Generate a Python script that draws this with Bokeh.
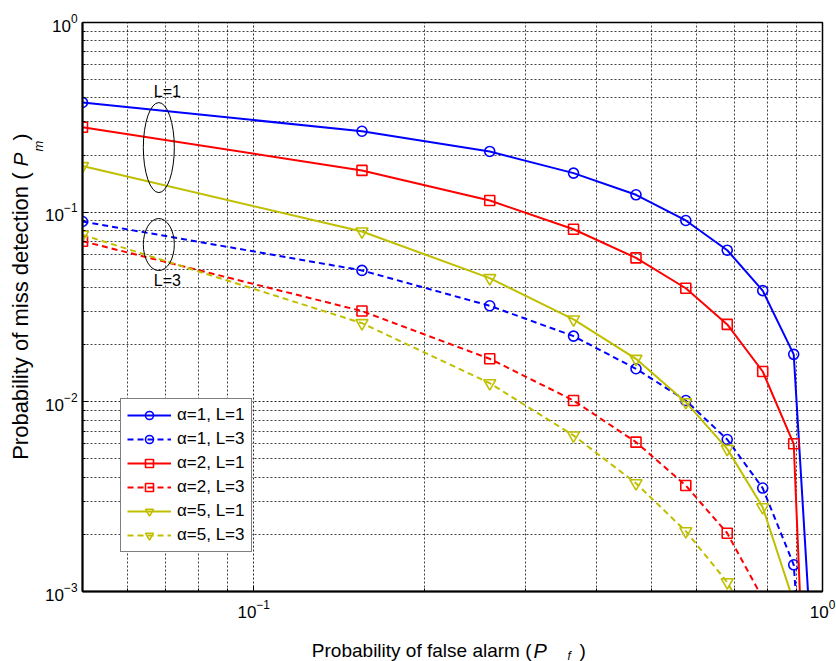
from math import pi, log10
from bokeh.plotting import figure
from bokeh.models import Range1d, FixedTicker, Label
from bokeh.core.properties import value
from bokeh.embed import file_html
from bokeh.resources import INLINE

# ---------------- data ----------------
pf = [0.05, 0.155, 0.26, 0.365, 0.47, 0.575, 0.68, 0.785, 0.89, 0.995]

pm_a1_L1 = [0.379, 0.267, 0.209, 0.1606, 0.1235, 0.0904, 0.0630, 0.0386, 0.0178, 6.9e-5]
pm_a1_L3 = [0.0893, 0.0493, 0.0321, 0.0222, 0.01494, 0.01016, 0.00633, 0.00351, 0.001383, 1.4e-5]
pm_a2_L1 = [0.2805, 0.166, 0.1152, 0.0813, 0.0574, 0.0397, 0.0256, 0.01445, 0.00601, 1.9e-6]
pm_a2_L3 = [0.0703, 0.0301, 0.01686, 0.01016, 0.00613, 0.00362, 0.00203, 0.00092, 2.5e-4, 1e-5]
pm_a5_L1 = [0.175, 0.0791, 0.0449, 0.0272, 0.01686, 0.00996, 0.00565, 0.00278, 0.00088, 1e-6]
pm_a5_L3 = [0.076, 0.026, 0.01254, 0.00665, 0.00372, 0.00208, 0.00112, 0.00052, 1.5e-4, 1e-5]

series_labels = ["\u03b1=1, L=1", "\u03b1=1, L=3", "\u03b1=2, L=1",
                 "\u03b1=2, L=3", "\u03b1=5, L=1", "\u03b1=5, L=3"]

x_major_ticks = [0.1, 1.0]
x_minor_ticks = [0.06, 0.07, 0.08, 0.09, 0.2, 0.3, 0.4, 0.5, 0.6, 0.7, 0.8, 0.9]
y_major_ticks = [0.001, 0.01, 0.1, 1.0]
y_minor_ticks = [0.002, 0.003, 0.004, 0.005, 0.006, 0.007, 0.008, 0.009,
                 0.02, 0.03, 0.04, 0.05, 0.06, 0.07, 0.08, 0.09,
                 0.2, 0.3, 0.4, 0.5, 0.6, 0.7, 0.8, 0.9]

X_MIN, X_MAX = 0.05, 1.0
Y_MIN, Y_MAX = 1e-3, 1.0

# group annotations (ellipses + text)
group_text = ["L=1", "L=3"]
group_text_x = [0.0705, 0.0705]
group_text_y = [0.433, 0.0436]
ellipse_x = [0.0681, 0.0681]
ellipse_y = [0.219, 0.0675]
ellipse_w = [31, 31]
ellipse_h = [90, 52]

FONT = "Liberation Sans"
BLUE, RED, YEL = "#0000FF", "#FF0000", "#BFBF00"

W, H = 836, 661
BL, BR, BT, BB = 82, 14, 22, 70          # borders -> frame 82..822 x 22..591
FW, FH = W - BL - BR, H - BT - BB

p = figure(width=W, height=H, x_axis_type="log", y_axis_type="log",
           x_range=Range1d(X_MIN, X_MAX), y_range=Range1d(Y_MIN, Y_MAX),
           output_backend="svg", toolbar_location=None,
           min_border_left=BL, min_border_right=BR,
           min_border_top=BT, min_border_bottom=BB)

# axes / ticks
p.xaxis.ticker = FixedTicker(ticks=x_major_ticks, minor_ticks=x_minor_ticks)
p.yaxis.ticker = FixedTicker(ticks=y_major_ticks, minor_ticks=y_minor_ticks)
for ax in (p.xaxis, p.yaxis):
    ax.major_label_text_font = FONT
    ax.major_label_text_font_size = "17px"
    ax.major_label_text_color = "black"
    ax.axis_line_color = "black"
    ax.axis_line_width = 2
    ax.major_tick_in = 6
    ax.major_tick_out = 0
    ax.minor_tick_in = 3
    ax.minor_tick_out = 0
    ax.major_tick_line_color = "black"
    ax.minor_tick_line_color = "black"
p.xaxis.major_label_standoff = 8
p.yaxis.major_label_standoff = 5

for g in (p.xgrid, p.ygrid):
    g.grid_line_color = "black"
    g.grid_line_dash = "2 2"
    g.grid_line_width = 1
    g.minor_grid_line_color = "black"
    g.minor_grid_line_dash = "2 2"
    g.minor_grid_line_width = 1
    g.grid_line_alpha = 0.85
    g.minor_grid_line_alpha = 0.75

p.outline_line_color = "black"
p.outline_line_width = 1.5
p.background_fill_color = "white"
p.border_fill_color = "white"

# series
specs = [
    (pm_a1_L1, BLUE, "solid", "circle", 10),
    (pm_a1_L3, BLUE, "6 4", "circle", 10),
    (pm_a2_L1, RED, "solid", "square", 10),
    (pm_a2_L3, RED, "6 4", "square", 10),
    (pm_a5_L1, YEL, "solid", "inverted_triangle", 12),
    (pm_a5_L3, YEL, "6 4", "inverted_triangle", 12),
]
for (vals, col, dash, mk, sz), lab in zip(specs, series_labels):
    p.line(pf, vals, line_color=col, line_width=2, line_dash=dash, legend_label=lab)
    p.scatter(pf, vals, marker=mk, size=sz, line_color=col, line_width=1.6,
              fill_color=None, legend_label=lab)

# group ellipses and texts
p.ellipse(x=ellipse_x, y=ellipse_y, width=ellipse_w, height=ellipse_h,
          width_units="screen", height_units="screen",
          fill_color=None, line_color="black", line_width=1)
for t, tx, ty in zip(group_text, group_text_x, group_text_y):
    p.add_layout(Label(x=tx, y=ty, text=t, text_font=FONT, text_font_size="16px",
                       text_align="center", text_baseline="middle", text_color="black"))

# legend
lg = p.legend[0]
lg.location = (38, 39)
lg.label_text_font = FONT
lg.label_text_font_size = "17px"
lg.label_text_color = "black"
lg.glyph_width = 44
lg.glyph_height = 20
lg.label_height = 20
lg.label_standoff = 6
lg.spacing = 4
lg.padding = 6
lg.margin = 0
lg.border_line_color = "black"
lg.border_line_width = 1
lg.background_fill_color = "white"
lg.background_fill_alpha = 1.0


# convert a canvas pixel position (from top-left) into data coordinates
def cx(px):
    lo, hi = log10(X_MIN), log10(X_MAX)
    return 10 ** (lo + (px - BL) / FW * (hi - lo))


def cy(py):
    lo, hi = log10(Y_MIN), log10(Y_MAX)
    return 10 ** (hi - (py - BT) / FH * (hi - lo))


def title_piece(px, py, text, size="18px", style="normal", align="left", angle=0.0):
    # drawn at overlay level so that it is not clipped to the plot frame
    p.text(x=[cx(px)], y=[cy(py)], text=[text], level="overlay",
           text_font=value(FONT), text_font_size=value(size),
           text_font_style=style, text_align=align,
           text_baseline="alphabetic", text_color="black", angle=angle)


# x title:  Probability of false alarm ( P_f )
title_piece(531, 650, "Probability of false alarm (", size="19px", align="right")
title_piece(533, 650, "P", size="20px", style="italic")
title_piece(567, 655, "f", size="12px", style="italic")
title_piece(579, 650, ")", size="19px")

# y title (rotated):  Probability of miss detection ( P_m )
title_piece(20, 172, "Probability of miss detection (", size="22px", align="right", angle=pi / 2)
title_piece(20, 166, "P", size="21px", style="italic", angle=pi / 2)
title_piece(38, 151, "m", size="13px", style="italic", angle=pi / 2)
title_piece(20, 140, ")", size="21px", angle=pi / 2)

open("out.html", "w").write(file_html(p, INLINE))
